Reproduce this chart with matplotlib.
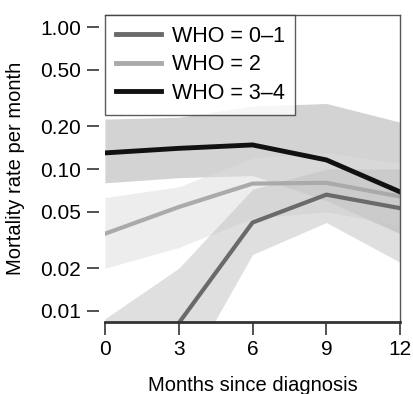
import matplotlib
matplotlib.use("Agg")
import matplotlib.pyplot as plt
from matplotlib.ticker import FixedLocator, NullLocator

plt.rcParams['font.family'] = ['Liberation Sans', 'DejaVu Sans']

months = [0, 3, 6, 9, 12]

# WHO stage 0-1
who01 = [0.002, 0.0082, 0.042, 0.066, 0.053]
who01_lo = [0.0004, 0.003, 0.025, 0.042, 0.022]
who01_hi = [0.0088, 0.020, 0.072, 0.10, 0.10]

# WHO stage 2
who2 = [0.035, 0.054, 0.079, 0.080, 0.064]
who2_lo = [0.020, 0.028, 0.045, 0.050, 0.040]
who2_hi = [0.063, 0.075, 0.12, 0.13, 0.11]

# WHO stage 3-4
who34 = [0.13, 0.14, 0.148, 0.116, 0.069]
who34_lo = [0.080, 0.087, 0.090, 0.060, 0.035]
who34_hi = [0.225, 0.232, 0.278, 0.29, 0.214]

yticks = [0.01, 0.02, 0.05, 0.10, 0.20, 0.50, 1.00]
ytick_labels = ["0.01", "0.02", "0.05", "0.10", "0.20", "0.50", "1.00"]

fig = plt.figure(figsize=(4.13, 3.94), dpi=100)
ax = fig.add_axes([0.254, 0.183, 0.715, 0.779])

ax.fill_between(months, who34_lo, who34_hi, color='#a8a8a8', alpha=0.5, lw=0)
ax.fill_between(months, who2_lo, who2_hi, color='#dddddd', alpha=0.5, lw=0)
ax.fill_between(months, who01_lo, who01_hi, color='#c0c0c0', alpha=0.5, lw=0)

ax.plot(months, who01, color='#6a6a6a', lw=3, label='WHO = 0\u20131', solid_joinstyle='miter')
ax.plot(months, who2, color='#aaaaaa', lw=3, label='WHO = 2', solid_joinstyle='miter')
ax.plot(months, who34, color='#111111', lw=3.5, label='WHO = 3\u20134', solid_joinstyle='miter')

ax.set_yscale('log')
ax.set_ylim(0.00837, 1.22)
ax.set_xlim(0, 12)
ax.yaxis.set_major_locator(FixedLocator(yticks))
ax.yaxis.set_minor_locator(NullLocator())
ax.set_yticklabels(ytick_labels)
ax.set_xticks(months)

ax.spines['left'].set_visible(False)
ax.spines['left'].set_position(('outward', 4))
for s in ['top', 'right']:
    ax.spines[s].set_color('#555555')
    ax.spines[s].set_linewidth(1)
ax.spines['bottom'].set_linewidth(2)
ax.spines['bottom'].set_color('#333333')

ax.tick_params(axis='both', direction='out', length=9, width=1.3, color='#444444',
               labelsize=15, pad=4)

ax.set_xlabel('Months since diagnosis', fontsize=14.5, labelpad=12)
ax.set_ylabel('Mortality rate per month', fontsize=14.5, labelpad=11)

leg = ax.legend(loc='upper left', fontsize=15.5, frameon=True, fancybox=False,
                borderaxespad=0, handlelength=2.1, labelspacing=0.35,
                borderpad=0.5, handletextpad=0.5)
leg.get_frame().set_edgecolor('#333333')
leg.get_frame().set_linewidth(1)
for h in leg.get_lines():
    h.set_linewidth(3.5)

fig.savefig('out.png', dpi=100)
